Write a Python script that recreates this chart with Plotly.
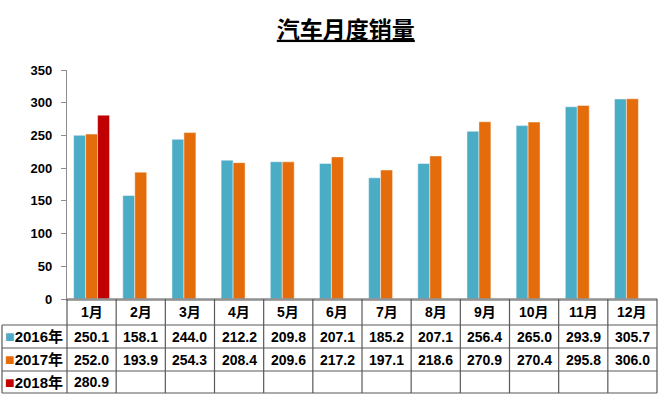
import plotly.graph_objects as go

months = ["1月", "2月", "3月", "4月", "5月", "6月", "7月", "8月", "9月", "10月", "11月", "12月"]
series_names = ["2016年", "2017年", "2018年"]
sales_2016 = [250.1, 158.1, 244.0, 212.2, 209.8, 207.1, 185.2, 207.1, 256.4, 265.0, 293.9, 305.7]
sales_2017 = [252.0, 193.9, 254.3, 208.4, 209.6, 217.2, 197.1, 218.6, 270.9, 270.4, 295.8, 306.0]
sales_2018 = [280.9, None, None, None, None, None, None, None, None, None, None, None]
colors = ["#4BACC6", "#E46C0A", "#C00000"]
y_ticks = [0, 50, 100, 150, 200, 250, 300, 350]

W, H = 660, 396
L, R, T, B = 67, 3, 70, 97
pw = W - L - R
ph = H - T - B

def px_x(px):
    return (px - L) / pw

def px_y(py):
    return (H - B - py) / ph

FONT = "Liberation Sans, Arial, Noto Sans CJK SC, sans-serif"

fig = go.Figure()
all_series = [sales_2016, sales_2017, sales_2018]
for name, vals, c in zip(series_names, all_series, colors):
    fig.add_trace(go.Bar(
        x=months, y=vals, name=name,
        marker=dict(color=c, line=dict(color="rgba(255,255,255,0.45)", width=1)),
    ))

shapes = []
annotations = []
line_col = "#595959"
row_y = [299, 325, 348, 371, 393]
left_px = 2
shapes.append(dict(type="line", xref="paper", yref="paper",
                   x0=0, x1=1, y0=px_y(row_y[0]), y1=px_y(row_y[0]),
                   line=dict(color="#8c8c8c", width=1.5)))
for ry in row_y[1:]:
    shapes.append(dict(type="line", xref="paper", yref="paper",
                       x0=px_x(left_px), x1=1, y0=px_y(ry), y1=px_y(ry),
                       line=dict(color=line_col, width=1.2)))
shapes.append(dict(type="line", xref="paper", yref="paper",
                   x0=px_x(left_px), x1=px_x(left_px), y0=px_y(row_y[1]), y1=px_y(row_y[-1]),
                   line=dict(color=line_col, width=1.2)))
for k in range(len(months) + 1):
    xx = k / len(months)
    shapes.append(dict(type="line", xref="paper", yref="paper",
                       x0=xx, x1=xx, y0=px_y(row_y[0]), y1=px_y(row_y[-1]),
                       line=dict(color=line_col, width=1.2)))

def cy(i):
    return px_y((row_y[i] + row_y[i + 1]) / 2)

for j, m in enumerate(months):
    xc = (j + 0.5) / len(months)
    annotations.append(dict(text=m, x=xc, y=cy(0), xref="paper", yref="paper",
                            showarrow=False, xanchor="center", yanchor="middle",
                            font=dict(size=14, color="#000", family=FONT, weight="bold")))
    for r, vals in enumerate(all_series):
        v = vals[j]
        if v is None:
            continue
        annotations.append(dict(text=f"{v:.1f}", x=xc, y=cy(r + 1), xref="paper", yref="paper",
                                showarrow=False, xanchor="center", yanchor="middle",
                                font=dict(size=14, color="#000", family=FONT, weight="bold")))
for r, (name, c) in enumerate(zip(series_names, colors)):
    annotations.append(dict(text=f"<span style='color:{c};font-size:16px'>■</span>{name}",
                            x=px_x(3), y=cy(r + 1), xref="paper", yref="paper",
                            showarrow=False, xanchor="left", yanchor="middle",
                            font=dict(size=15, color="#000", family=FONT, weight="bold")))

fig.update_layout(
    width=W, height=H,
    margin=dict(l=L, r=R, t=T, b=B),
    paper_bgcolor="white", plot_bgcolor="white",
    barmode="group", bargap=0.27, bargroupgap=0.0,
    showlegend=False,
    title=dict(text="<u>汽车月度销量</u>", x=0.524, xanchor="center", y=0.925, yanchor="middle",
               font=dict(size=23, color="#000", family=FONT, weight="bold")),
    shapes=shapes, annotations=annotations,
    font=dict(family=FONT),
)
fig.update_xaxes(showticklabels=False, showline=True, linecolor="#a6a6a6", linewidth=1.5,
                 ticks="", showgrid=False, zeroline=False)
fig.update_yaxes(range=[0, 350], tickvals=y_ticks, showline=True, linecolor="#8c8c8c", linewidth=1.2,
                 ticks="outside", ticklen=5, tickcolor="#8c8c8c", showgrid=False, zeroline=False,
                 tickfont=dict(size=13, color="#000", family=FONT, weight="bold"), ticklabelstandoff=6)

fig.write_html("out.html", config={"displayModeBar": False},
               post_script="document.body.style.margin='0';")
